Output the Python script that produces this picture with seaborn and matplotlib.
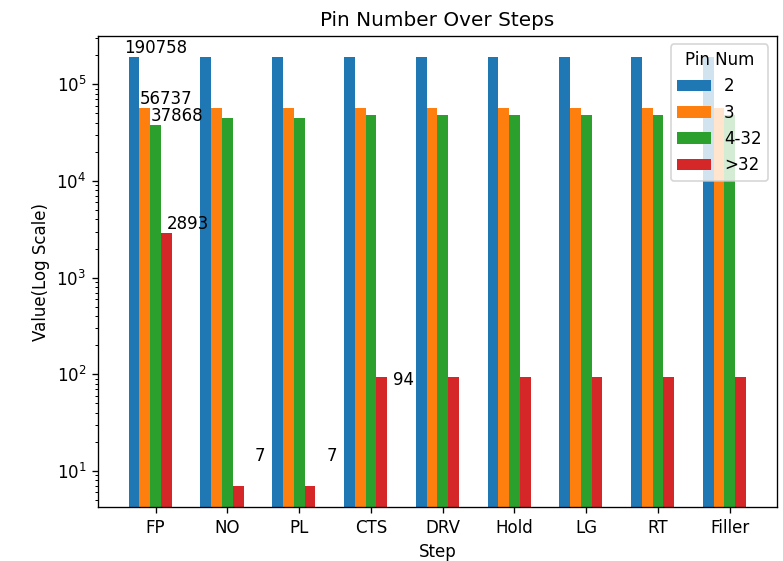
import matplotlib
matplotlib.use("Agg")
import matplotlib.pyplot as plt
import seaborn as sns
import numpy as np
import pandas as pd

steps = ["FP", "NO", "PL", "CTS", "DRV", "Hold", "LG", "RT", "Filler"]
series_names = ["2", "3", "4-32", ">32"]
pin_2 = [190758, 190758, 190758, 190758, 190758, 190758, 190758, 190758, 190758]
pin_3 = [56737, 56737, 56737, 56737, 56737, 56737, 56737, 56737, 56737]
pin_4_32 = [37868, 44800, 44800, 48100, 48100, 48100, 48100, 48100, 48100]
pin_gt32 = [2893, 7, 7, 94, 94, 94, 94, 94, 94]
colors = ["#1f77b4", "#ff7f0e", "#2ca02c", "#d62728"]

# annotations: (step index, series index, text, anchor y)
ann_step = [0, 0, 0, 0, 1, 2, 3]
ann_series = [0, 1, 2, 3, 3, 3, 3]
ann_text = ["190758", "56737", "37868", "2893", "7", "7", "94"]
ann_y = [190758, 56737, 37868, 2893, 11.5, 11.5, 70]

bar_w = 0.15
values = [pin_2, pin_3, pin_4_32, pin_gt32]
rows = []
for s, vals in zip(series_names, values):
    for i, v in enumerate(vals):
        rows.append({"pos": i - bar_w / 2, "value": v, "Pin Num": s})
df = pd.DataFrame(rows)

DPI = 120
fig, ax = plt.subplots(figsize=(783 / DPI, 561 / DPI), dpi=DPI)
sns.barplot(data=df, x="pos", y="value", hue="Pin Num", hue_order=series_names,
            palette=colors, native_scale=True, width=4 * bar_w, dodge=True,
            errorbar=None, saturation=1, linewidth=0, ax=ax)
ax.set_yscale("log")
ax.set_xticks(range(len(steps)))
ax.set_xticklabels(steps)
ax.set_xlabel("Step")
ax.set_ylabel("Value(Log Scale)")
ax.set_title("Pin Number Over Steps")

for st, se, tx, yy in zip(ann_step, ann_series, ann_text, ann_y):
    ax.text(st + se * bar_w, yy, tx, ha="center", va="bottom", fontsize=10)

ax.legend(title="Pin Num", loc="upper right")
ax.autoscale(axis="x")
ax.margins(x=0.05)
fig.subplots_adjust(left=0.125, right=0.992, top=0.936, bottom=0.096)
fig.savefig("out.png", dpi=DPI)
